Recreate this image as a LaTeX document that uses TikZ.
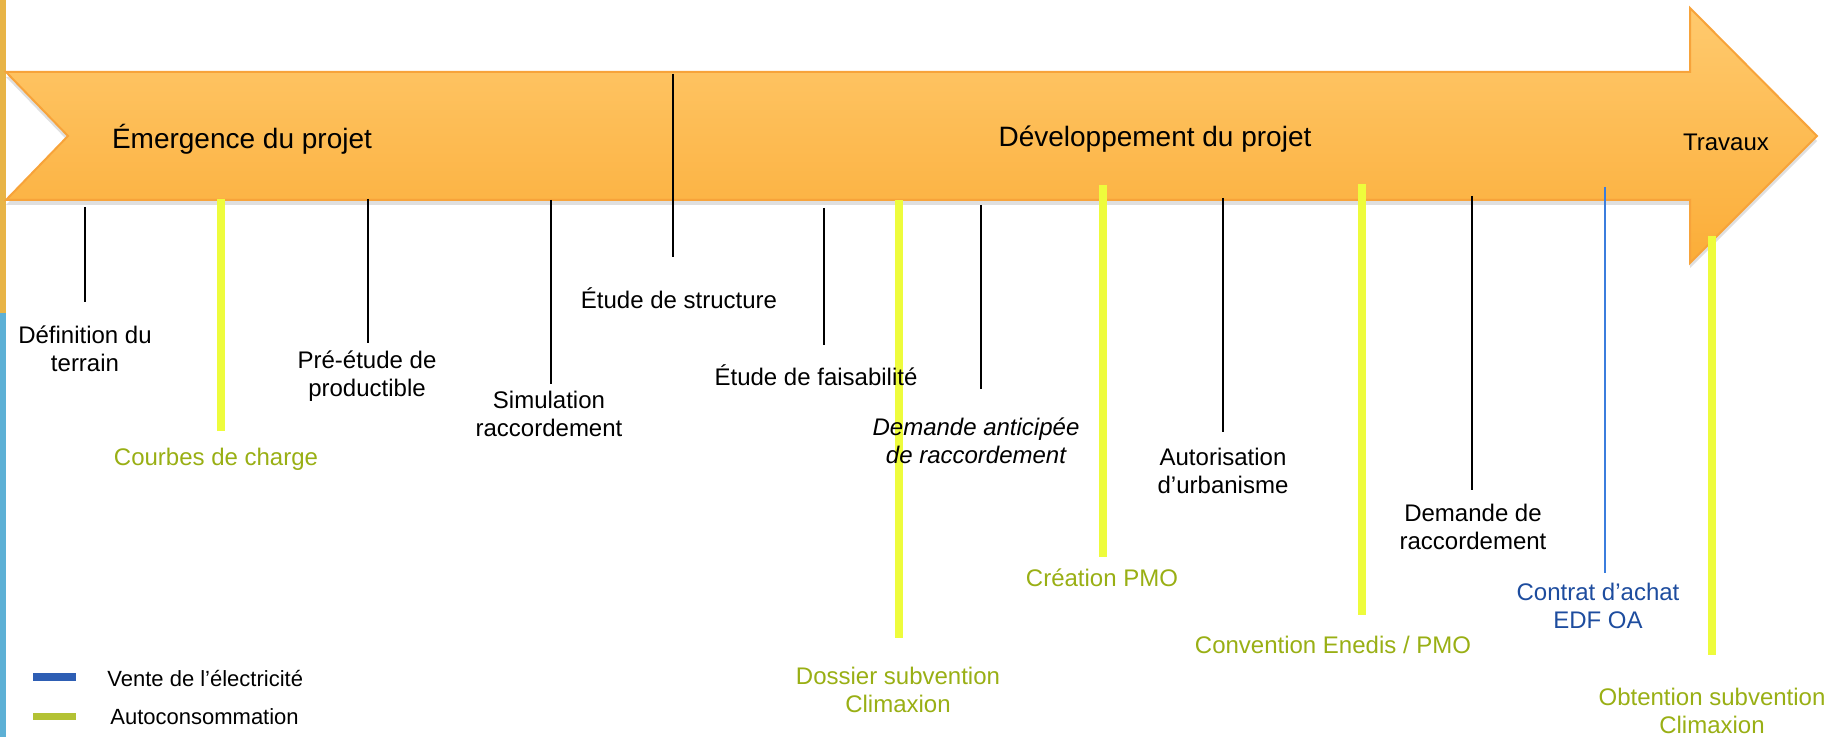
\documentclass[tikz,border=0pt]{standalone}
\usepackage{fontspec}
\setmainfont{Liberation Sans}
\usepackage{xcolor}
\usepackage{tikz}
\usetikzlibrary{calc,shapes,arrows.meta,positioning,shadows}

\definecolor{flecheHaut}{HTML}{FFCA6E}
\definecolor{flecheBas}{HTML}{FBAD38}
\definecolor{flecheBord}{HTML}{F7A33A}
\definecolor{bordOrange}{HTML}{E8B446}
\definecolor{bordBleu}{HTML}{5DB0D5}
\definecolor{jauneVif}{HTML}{EEFC3C}
\definecolor{vertTexte}{HTML}{99AF14}
\definecolor{vertLegende}{HTML}{B3C234}
\definecolor{bleuLegende}{HTML}{2E5EB4}
\definecolor{bleuTrait}{HTML}{3B7DDD}
\definecolor{bleuTexte}{HTML}{1D4C9E}

\begin{document}
\begin{tikzpicture}[x=0.5pt,y=-0.5pt,
    every node/.style={font=\fontsize{12}{14}\selectfont, align=center, inner sep=0pt},
    phase/.style={font=\fontsize{14}{16}\selectfont},
    noir/.style={draw=black, line width=1pt},
    jaune/.style={draw=jauneVif, line width=4pt},
    bleu/.style={draw=bleuTrait, line width=1.2pt},
    autoconso/.style={text=vertTexte},
    vente/.style={text=bleuTexte},
    legende/.style={font=\fontsize{11}{13}\selectfont, anchor=west}]

    \useasboundingbox (0,0) rectangle (1825,737);

    % bande de gauche
    \fill[bordOrange] (0,0) rectangle (6,313);
    \fill[bordBleu] (0,313) rectangle (6,737);

    % la fleche
    \shadedraw[top color=flecheHaut, bottom color=flecheBas, draw=flecheBord, line width=1pt,
        drop shadow={shadow xshift=0pt, shadow yshift=-2.5pt, opacity=.25}]
        (6,72) -- (1690,72) -- (1690,8) -- (1817,136) -- (1690,263) -- (1690,200)
        -- (6,200) -- (68,136) -- cycle;

    \node[phase] (emergence) at (242,139) {Émergence du projet};
    \node[phase] (developpement) at (1155,139) {Développement du projet};
    \node (travaux) at (1726,142) {Travaux};

    % traits de la frise
    \foreach \x/\yh/\yb/\s [count=\n] in {85/207/302/noir, 221/199/431/jaune, 368/199/343/noir,
        551/200/384/noir, 673/74/257/noir, 824/208/345/noir, 899/200/638/jaune,
        981/205/389/noir, 1103/185/557/jaune, 1223/198/432/noir, 1362/184/615/jaune,
        1472/196/490/noir, 1605/187/573/bleu, 1712/236/655/jaune}{
      \draw[\s] (\x,\yh) coordinate (haut\n) -- (\x,\yb) coordinate (bas\n);
    }

    % etapes
    \node (terrain) at (85,349) {Définition du\\terrain};
    \node[autoconso] (courbes) at (216,459) {Courbes de charge};
    \node (preetude) at (367,376) {Pré-étude de\\productible};
    \node (simulation) at (549,414) {Simulation\\raccordement};
    \node (structure) at (679,298) {Étude de structure};
    \node (faisabilite) at (816,375) {Étude de faisabilité};
    \node[font=\fontsize{12}{14}\selectfont\itshape] (anticipee) at (976,441) {Demande anticipée\\de raccordement};
    \node[autoconso] (dossier) at (898,690) {Dossier subvention\\Climaxion};
    \node[autoconso] (pmo) at (1102,578) {Création PMO};
    \node (urbanisme) at (1223,471) {Autorisation\\d’urbanisme};
    \node[autoconso] (convention) at (1333,645) {Convention Enedis / PMO};
    \node (raccordement) at (1473,527) {Demande de\\raccordement};
    \node[vente] (contrat) at (1598,606) {Contrat d’achat\\EDF OA};
    \node[autoconso] (obtention) at (1712,711) {Obtention subvention\\Climaxion};

    % legende
    \fill[bleuLegende] (33,673) rectangle (76,681);
    \fill[vertLegende] (33,713) rectangle (76,720);
    \node[legende] (leg vente) at (107,679) {Vente de l’électricité};
    \node[legende] (leg auto) at (110,717) {Autoconsommation};

\end{tikzpicture}
\end{document}
